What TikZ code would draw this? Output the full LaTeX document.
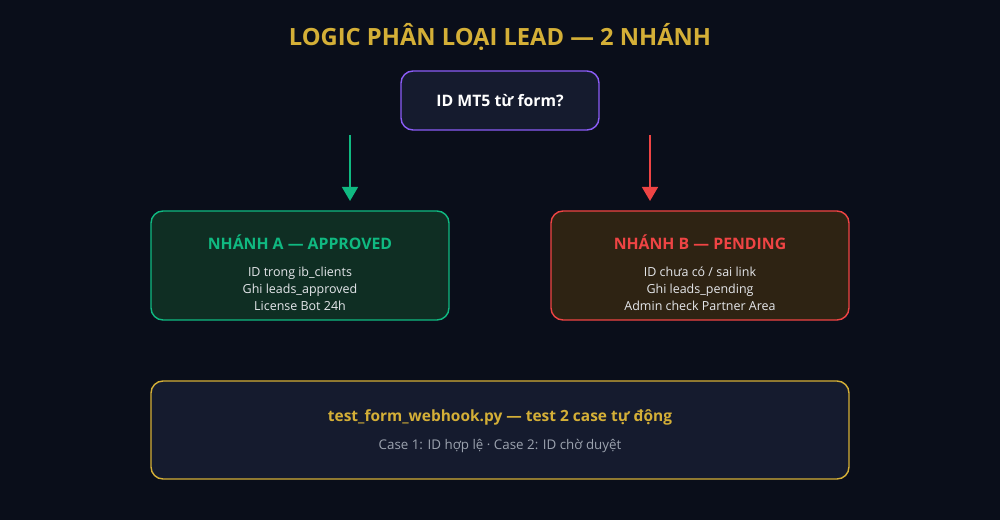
\documentclass[tikz,border=0pt]{standalone}
\usepackage{fontspec}
\setmainfont{Open Sans}
\usetikzlibrary{arrows.meta}
\definecolor{bg}{HTML}{0A0E1A}
\definecolor{gold}{HTML}{D4AF37}
\definecolor{boxbg}{HTML}{151B2E}
\definecolor{purp}{HTML}{8B5CF6}
\definecolor{grn}{HTML}{10B981}
\definecolor{grnbg}{HTML}{0F2E23}
\definecolor{rd}{HTML}{EF4444}
\definecolor{rdbg}{HTML}{2E2313}
\definecolor{txt}{HTML}{E5E7EB}
\definecolor{sub}{HTML}{9CA3AF}
\begin{document}
\begin{tikzpicture}[x=0.02cm,y=-0.02cm,
  box/.style={rounded corners=0.24cm,line width=0.8pt},
  ttl/.style={font=\bfseries\fontsize{9}{11}\selectfont},
  body/.style={font=\fontsize{7.1}{9.7}\selectfont,text=txt,align=center},
  arr/.style={line width=1.3pt,-{Triangle[length=8pt,width=9pt]}}]
\fill[bg] (0,0) rectangle (1000,520);
\node[text=gold,font=\bfseries\fontsize{13.5}{16}\selectfont] (title) at (500,37) {LOGIC PHÂN LOẠI LEAD — 2 NHÁNH};
\draw[box,fill=boxbg,draw=purp] (401,71) rectangle (599,130);
\node[ttl,text=white] (q) at (500,101) {ID MT5 từ form?};
\coordinate (ga) at (350,135); \coordinate (gb) at (350,201);
\coordinate (ra) at (650,135); \coordinate (rb) at (650,201);
\draw[arr,grn] (ga) -- (gb);
\draw[arr,rd] (ra) -- (rb);
\draw[box,fill=grnbg,draw=grn] (151,211) rectangle (449,320);
\node[ttl,text=grn] (ah) at (300,242) {NHÁNH A — APPROVED};
\node[body] (ab) at (300,289) {ID trong ib\_clients\\Ghi leads\_approved\\License Bot 24h};
\draw[box,fill=rdbg,draw=rd] (551,211) rectangle (849,320);
\node[ttl,text=rd] (bh) at (700,242) {NHÁNH B — PENDING};
\node[body] (bb) at (700,289) {ID chưa có / sai link\\Ghi leads\_pending\\Admin check Partner Area};
\draw[box,fill=boxbg,draw=gold] (151,381) rectangle (849,479);
\node[ttl,text=gold,font=\bfseries\fontsize{8.8}{11}\selectfont] (ch) at (500,417) {test\_form\_webhook.py — test 2 case tự động};
\node[body,text=sub,font=\fontsize{7.6}{10}\selectfont] (cb) at (500,446) {Case 1: ID hợp lệ · Case 2: ID chờ duyệt};
\end{tikzpicture}
\end{document}
